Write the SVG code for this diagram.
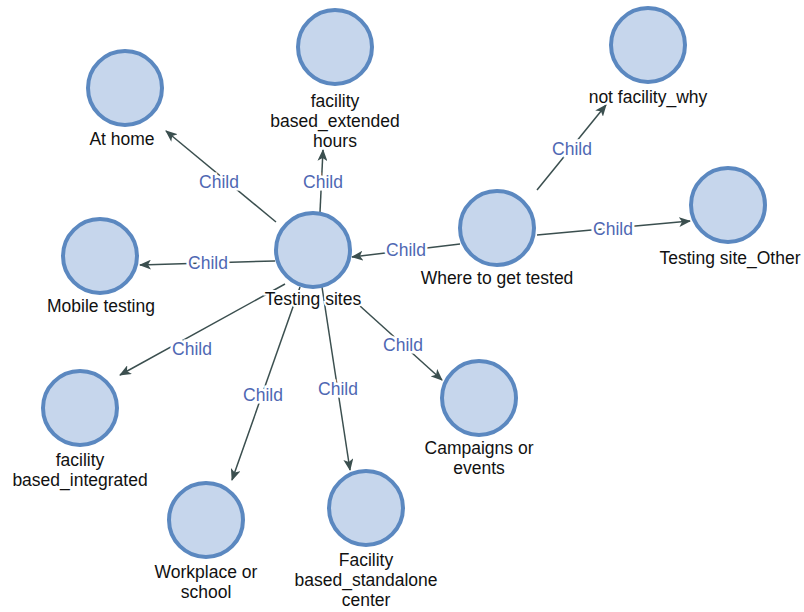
<svg xmlns="http://www.w3.org/2000/svg" width="804" height="612" viewBox="0 0 804 612">
<style>
.n{fill:#c6d6ec;stroke:#5b88c0;stroke-width:4}
.t{font-family:"Liberation Sans",Arial,sans-serif;font-size:17.5px;fill:#111;text-anchor:middle;stroke:#fff;stroke-width:4;paint-order:stroke}
.e{stroke:#3b4f4f;stroke-width:1.5;fill:none;marker-end:url(#ah)}
.l{font-family:"Liberation Sans",Arial,sans-serif;font-size:17.5px;fill:#4f68b3;text-anchor:middle;stroke:#fff;stroke-width:5;paint-order:stroke}
</style>
<defs>
<marker id="ah" viewBox="0 0 12 10" refX="11" refY="5" markerWidth="12" markerHeight="10" markerUnits="userSpaceOnUse" orient="auto">
<path d="M0,0 L12,5 L0,10 L3,5 z" fill="#3b4f4f"/>
</marker>
</defs>
<rect width="804" height="612" fill="#fff"/>
<g id="edges">
<path class="e" d="M276,222 L166,131"/>
<path class="e" d="M320,212 L323,150"/>
<path class="e" d="M275,261 L140,265"/>
<path class="e" d="M285,284 L120,375"/>
<path class="e" d="M300,287 L232,480"/>
<path class="e" d="M322,287 L350,470"/>
<path class="e" d="M360,306 L442,380"/>
<path class="e" d="M460,244 L352,257"/>
<path class="e" d="M537,190 L606,105"/>
<path class="e" d="M537,235 L690,221"/>
<text class="l" x="219" y="188">Child</text>
<text class="l" x="323" y="188">Child</text>
<text class="l" x="208" y="269">Child</text>
<text class="l" x="192" y="355">Child</text>
<text class="l" x="263" y="401">Child</text>
<text class="l" x="338" y="395">Child</text>
<text class="l" x="403" y="351">Child</text>
<text class="l" x="406" y="256">Child</text>
<text class="l" x="572" y="155">Child</text>
<text class="l" x="613" y="235">Child</text>
</g>
<g id="at-home"><circle class="n" cx="125" cy="88" r="37"/><text class="t" x="122" y="145">At home</text></g>
<g id="facility-extended"><circle class="n" cx="335" cy="47" r="37"/><text class="t" x="335" y="107">facility</text><text class="t" x="335" y="127">based_extended</text><text class="t" x="335" y="147">hours</text></g>
<g id="not-facility"><circle class="n" cx="648" cy="45" r="37"/><text class="t" x="648" y="103">not facility_why</text></g>
<g id="site-other"><circle class="n" cx="728" cy="205" r="37"/><text class="t" x="730" y="264">Testing site_Other</text></g>
<g id="where"><circle class="n" cx="497" cy="228" r="37"/><text class="t" x="497" y="284">Where to get tested</text></g>
<g id="testing-sites"><circle class="n" cx="313" cy="250" r="37"/><text class="t" x="313" y="305">Testing sites</text></g>
<g id="mobile"><circle class="n" cx="100" cy="256" r="37"/><text class="t" x="101" y="312">Mobile testing</text></g>
<g id="integrated"><circle class="n" cx="80" cy="408" r="37"/><text class="t" x="80" y="466">facility</text><text class="t" x="80" y="486">based_integrated</text></g>
<g id="workplace"><circle class="n" cx="206" cy="520" r="37"/><text class="t" x="206" y="578">Workplace or</text><text class="t" x="206" y="598">school</text></g>
<g id="standalone"><circle class="n" cx="366" cy="508" r="37"/><text class="t" x="366" y="566">Facility</text><text class="t" x="366" y="586">based_standalone</text><text class="t" x="366" y="606">center</text></g>
<g id="campaigns"><circle class="n" cx="479" cy="398" r="37"/><text class="t" x="479" y="454">Campaigns or</text><text class="t" x="479" y="474">events</text></g>
</svg>
